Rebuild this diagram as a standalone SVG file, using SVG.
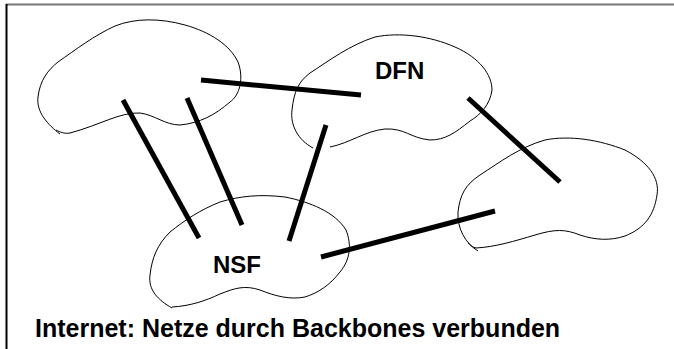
<svg xmlns="http://www.w3.org/2000/svg" width="674" height="349" viewBox="0 0 674 349">
<style>
.cloud{fill:none;stroke:#000;stroke-width:1}
.link{stroke:#000;stroke-width:5;stroke-linecap:butt}
.lbl{font-family:"Liberation Sans",Arial,sans-serif;font-weight:bold;font-size:24px;fill:#000}
</style>
<rect width="674" height="349" fill="#fff"/>
<line x1="6" y1="4.5" x2="674" y2="4.5" stroke="#777" stroke-width="2"/>
<line x1="6.5" y1="4" x2="6.5" y2="349" stroke="#000" stroke-width="2"/>
<g id="net-topleft">
<path class="cloud" d="M60,134 C48,125 36,112 38,97 C40,80 48,70 58,62 C75,50 95,35 115,26 C135,18 160,18 185,25 C210,32 230,45 238,62 C244,78 240,95 230,102 C215,115 200,123 180,125 C165,125 155,115 140,113 C120,112 100,125 70,133 C64,134 60,132 56,130"/>
</g>
<g id="net-dfn">
<path class="cloud" d="M313,148 C298,140 290,125 292,110 C294,92 298,82 310,73 C330,60 350,45 375,37 C400,32 430,36 455,47 C480,58 492,75 492,90 C490,105 480,115 470,121 C455,133 445,140 430,140 C410,138 405,128 385,129 C365,131 350,143 330,147"/>
<text class="lbl" x="375" y="79">DFN</text>
</g>
<g id="net-right">
<path class="cloud" d="M478,251 C465,243 457,228 458,212 C460,195 465,185 480,175 C500,162 520,147 545,140 C570,135 600,140 625,150 C648,162 660,178 657,195 C654,215 645,228 625,236 C610,241 595,240 580,235 C565,229 555,229 535,235 C515,241 495,247 476,248 C472,247 470,245 468,243"/>
</g>
<g id="net-nsf">
<path class="cloud" d="M172,308 C158,300 148,290 150,275 C152,258 157,245 170,232 C185,220 200,210 220,202 C240,196 260,194 285,197 C310,202 335,212 346,230 C352,245 350,260 340,272 C330,285 318,293 305,297 C290,300 275,296 260,290 C245,285 235,288 220,294 C205,301 190,306 172,307"/>
<text class="lbl" x="213" y="273">NSF</text>
</g>
<g id="connectors">
<line class="link" x1="201" y1="80" x2="361" y2="95"/>
<line class="link" x1="123" y1="100" x2="199" y2="238"/>
<line class="link" x1="187" y1="98" x2="242" y2="225"/>
<line class="link" x1="326" y1="125" x2="289" y2="241"/>
<line class="link" x1="468" y1="98" x2="560" y2="182"/>
<line class="link" x1="321" y1="257" x2="495" y2="211"/>
</g>
<text class="lbl" x="35" y="337" style="font-size:25px">Internet: Netze durch Backbones verbunden</text>
</svg>
